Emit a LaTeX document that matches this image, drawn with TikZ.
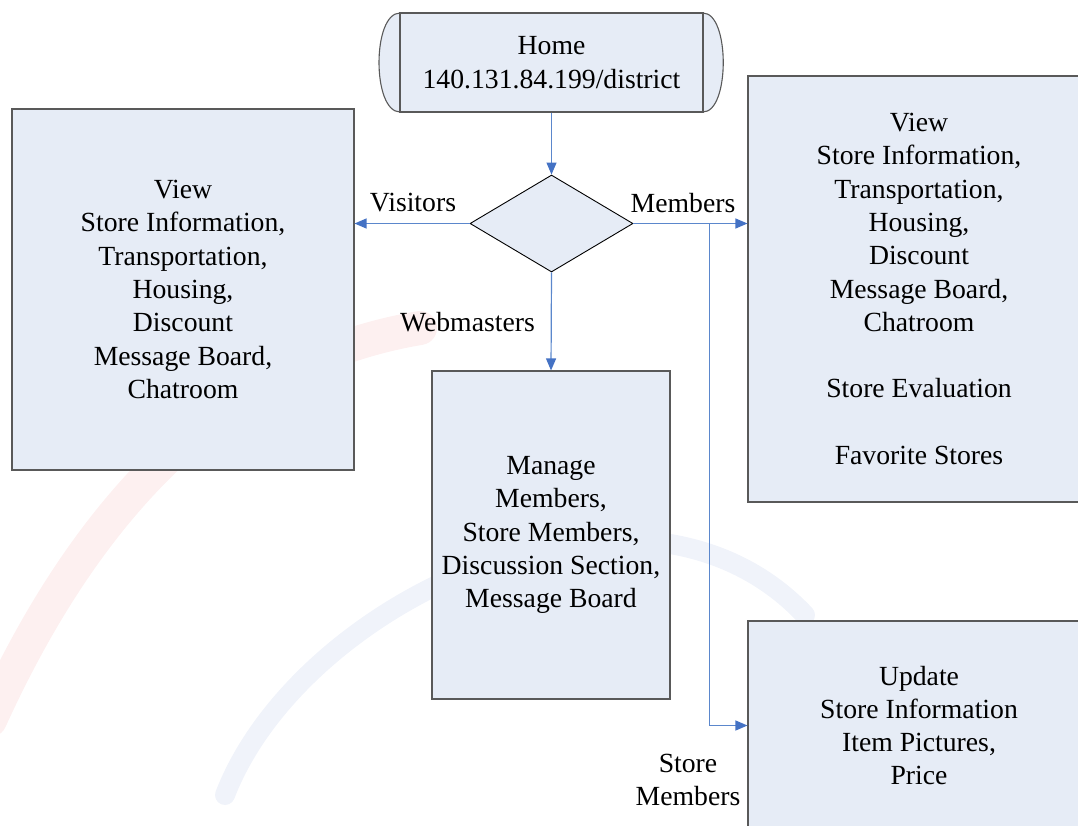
\documentclass[tikz,border=0pt]{standalone}
\usepackage{fontspec}
\setmainfont{Liberation Serif}
\usetikzlibrary{shapes.geometric,arrows.meta}
\definecolor{boxfill}{HTML}{E6ECF6}
\definecolor{boxline}{HTML}{595959}
\definecolor{arrowblue}{HTML}{4472C4}
\definecolor{linkblue}{HTML}{5B87CC}
\definecolor{wmred}{HTML}{FDF0F0}
\definecolor{wmblue}{HTML}{F0F3FA}
\tikzset{
  box/.style={draw=boxline, line width=1.1pt, fill=boxfill, align=center,
    inner sep=0pt, font=\fontsize{27.7}{33.3}\selectfont},
  lbl/.style={align=center, inner sep=0pt, font=\fontsize{27.7}{33.3}\selectfont},
  link/.style={draw=linkblue, line width=1.2pt,
    -{Triangle[length=12pt,width=10pt,fill=arrowblue,color=arrowblue]}},
}
\begin{document}
\begin{tikzpicture}[x=1pt,y=-1pt]
\useasboundingbox (0,0) rectangle (1078,825);
\clip (0,0) rectangle (1078,825);
% faint watermark arcs
\draw[wmred, line width=34pt, line cap=round] (-10,720) .. controls (90,500) and (230,360) .. (420,328);
\draw[wmblue, line width=20pt, line cap=round] (225,795) .. controls (300,600) and (640,440) .. (805,615);

% home terminator
\fill[boxfill, draw=boxline, line width=1.1pt]
  (400,13) -- (703,13) .. controls (730,13) and (730,112) .. (703,112)
  -- (400,112) .. controls (372,112) and (372,13) .. (400,13) -- cycle;
\node[box, minimum width=303pt, minimum height=99pt] (home) at (551.5,62.5)
  {Home\\140.131.84.199/district};

% decision
\node[draw=black, line width=0.9pt, fill=boxfill, shape=diamond, inner sep=0pt,
  minimum width=163pt, minimum height=97pt] (dia) at (551.5,223.5) {};

% boxes
\node[box, minimum width=342pt, minimum height=361pt] (left) at (183,289.5)
  {View\\Store Information,\\Transportation,\\Housing,\\Discount\\Message Board,\\Chatroom};
\node[box, minimum width=342pt, minimum height=426pt] (right) at (919,289)
  {View\\Store Information,\\Transportation,\\Housing,\\Discount\\Message Board,\\Chatroom\\[33.3pt]Store Evaluation\\[33.3pt]Favorite Stores};
\node[box, minimum width=238pt, minimum height=328pt] (manage) at (551,535)
  {Manage\\Members,\\Store Members,\\Discussion Section,\\Message Board};
\node[box, minimum width=342pt, minimum height=209pt] (update) at (919,725.5)
  {Update\\Store Information\\Item Pictures,\\Price};

% connectors
\draw[link] (home.south) -- (dia.north);
\draw[link] (dia.west) -- (left.east |- dia.west);
\draw[link] (dia.east) -- (right.west |- dia.east);
\draw[link] (dia.south) -- (manage.north);
\coordinate (br) at (709.5,223.5);
\draw[link] (br) |- (update.west);

% labels
\node[lbl] (lvis) at (413,203) {Visitors};
\node[lbl] (lmem) at (683,203) {Members};
\node[lbl] (lweb) at (467.5,322) {Webmasters};
\node[lbl] (lsm) at (688,780) {Store\\Members};
\end{tikzpicture}
\end{document}
